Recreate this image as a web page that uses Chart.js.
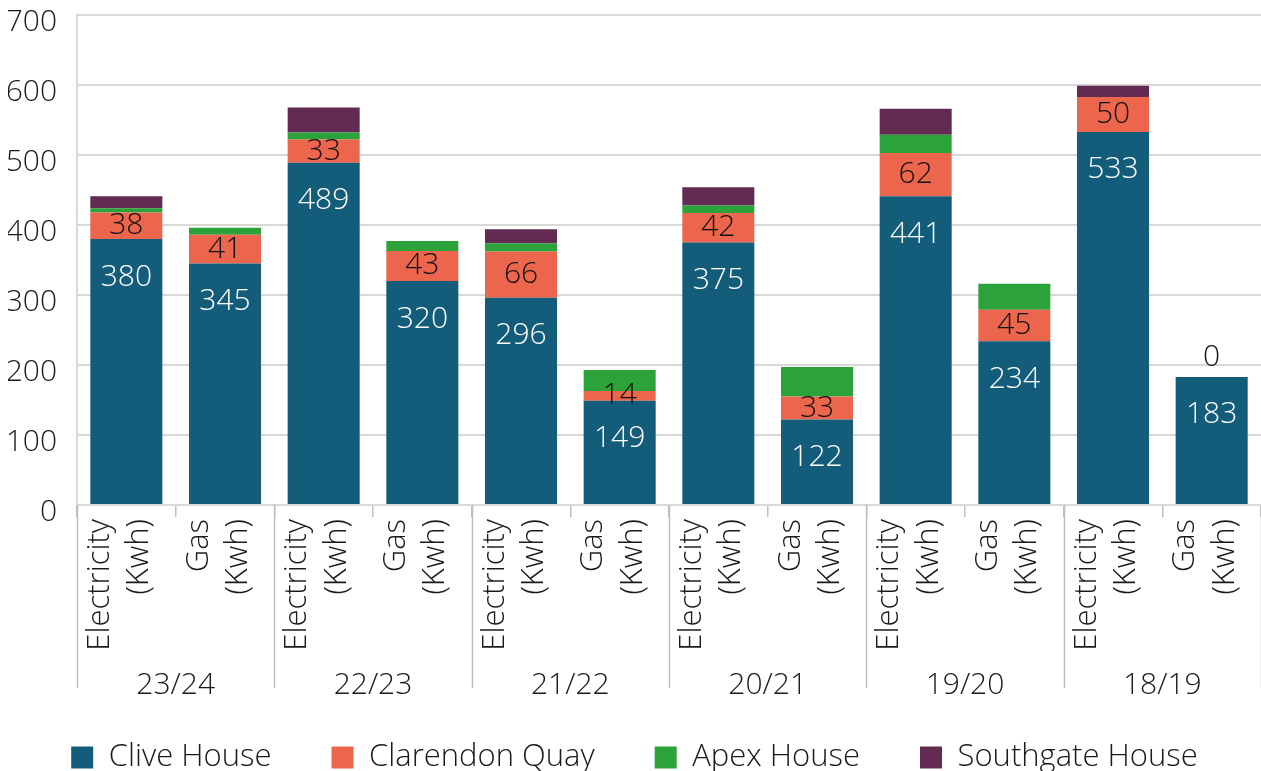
<!DOCTYPE html>
<html>
<head>
<meta charset="utf-8">
<script src="https://cdn.jsdelivr.net/npm/chart.js@4/dist/chart.umd.min.js"></script>
<style>
    html, body { margin: 0; padding: 0; background: #fff; }
    #wrap { width: 1261px; height: 771px; }
</style>
</head>
<body>
<div id="wrap"><canvas id="energy"></canvas></div>
<script>
// Energy use per building, split by year and fuel
const years = ['23/24', '22/23', '21/22', '20/21', '19/20', '18/19']
const fuels = [['Electricity', '(Kwh)'], ['Gas', '(Kwh)']]

const clive = [380, 345, 489, 320, 296, 149, 375, 122, 441, 234, 533, 183]
const clarendon = [38, 41, 33, 43, 66, 14, 42, 33, 62, 45, 50, 0]
const apex = [6, 10, 10, 14, 12, 30, 11, 42, 26, 37, 0, 0]
const southgate = [17, 0, 36, 0, 20, 0, 26, 0, 37, 0, 16, 0]

const yMax = 700
const yStep = 100

const FONT = '"Open Sans", "DejaVu Sans", sans-serif'
const TEXT = '#1a1a1a'
const GRID = '#d9d9d9'
const RULE = '#bfbfbf'

const categories = years.flatMap(() => fuels)

// value labels: white inside the Clive segment, dark centred on Clarendon
const barLabels = {
    id: 'barLabels',
    afterDatasetsDraw: function (chart) {
        const ctx = chart.ctx
        ctx.save()
        ctx.font = '300 30px ' + FONT
        ctx.textAlign = 'center'
        ctx.textBaseline = 'middle'
        chart.getDatasetMeta(0).data.forEach(function (bar, i) {
            ctx.fillStyle = '#fff'
            ctx.fillText(clive[i], bar.x, bar.y + 38)
        })
        chart.getDatasetMeta(1).data.forEach(function (bar, i) {
            ctx.fillStyle = '#111'
            const y = clarendon[i] === 0 ? bar.y - 19 : (bar.y + bar.base) / 2
            ctx.fillText(clarendon[i], bar.x, y)
        })
        ctx.restore()
    }
}

// second axis row: year names with long separators between the groups
const yearRow = {
    id: 'yearRow',
    afterDraw: function (chart) {
        const x = chart.scales.x
        const half = (x.getPixelForValue(1) - x.getPixelForValue(0)) / 2
        const top = chart.chartArea.bottom
        const ctx = chart.ctx
        ctx.save()
        ctx.strokeStyle = RULE
        ctx.lineWidth = 1.5
        for (let g = 0; g <= years.length; g++) {
            const px = Math.round(x.getPixelForValue(g * 2) - half) + 0.5
            ctx.beginPath()
            ctx.moveTo(px, top)
            ctx.lineTo(px, top + 183)
            ctx.stroke()
        }
        ctx.font = '300 30px ' + FONT
        ctx.fillStyle = TEXT
        ctx.textAlign = 'center'
        ctx.textBaseline = 'middle'
        years.forEach(function (year, g) {
            const cx = (x.getPixelForValue(g * 2) + x.getPixelForValue(g * 2 + 1)) / 2
            ctx.fillText(year, cx, top + 180)
        })
        ctx.restore()
    }
}

function series(label, data, color) {
    return {
        label: label,
        data: data,
        backgroundColor: color,
        borderWidth: 0,
        categoryPercentage: 1,
        barPercentage: 0.73
    }
}

new Chart(document.getElementById('energy'), {
    type: 'bar',
    data: {
        labels: categories,
        datasets: [
            series('Clive House', clive, '#135D7B'),
            series('Clarendon Quay', clarendon, '#EC654D'),
            series('Apex House', apex, '#2CA23A'),
            series('Southgate House', southgate, '#632A52')
        ]
    },
    plugins: [barLabels, yearRow],
    options: {
        responsive: true,
        maintainAspectRatio: false,
        animation: false,
        layout: { padding: { left: 8, right: 0, top: 15, bottom: -12 } },
        plugins: {
            tooltip: { enabled: false },
            legend: {
                position: 'bottom',
                labels: {
                    boxWidth: 22,
                    boxHeight: 22,
                    padding: 60,
                    color: TEXT,
                    font: { family: FONT, size: 31, weight: '300' }
                }
            }
        },
        scales: {
            y: {
                stacked: true,
                min: 0,
                max: yMax,
                border: { display: true, color: GRID, width: 2 },
                grid: { color: GRID, lineWidth: 2, drawTicks: false },
                ticks: {
                    stepSize: yStep,
                    padding: 20,
                    labelOffset: 7,
                    color: TEXT,
                    font: { family: FONT, size: 30, weight: '300', lineHeight: 1 }
                },
                afterFit: function (scale) {
                    scale.width = 69
                    scale.paddingTop = 0
                    scale.paddingBottom = 0
                }
            },
            x: {
                stacked: true,
                border: { display: true, color: GRID, width: 2 },
                grid: {
                    offset: true,
                    drawOnChartArea: false,
                    tickLength: 12,
                    tickColor: RULE,
                    lineWidth: 1.5
                },
                ticks: {
                    autoSkip: false,
                    minRotation: 90,
                    maxRotation: 90,
                    padding: 2,
                    labelOffset: -26,
                    color: TEXT,
                    font: { family: FONT, size: 31, weight: '300', lineHeight: 1.26 }
                },
                afterFit: function (scale) {
                    scale.paddingLeft = 0
                    scale.paddingRight = 0
                    scale.height = 177
                }
            }
        }
    }
})
</script>
</body>
</html>
